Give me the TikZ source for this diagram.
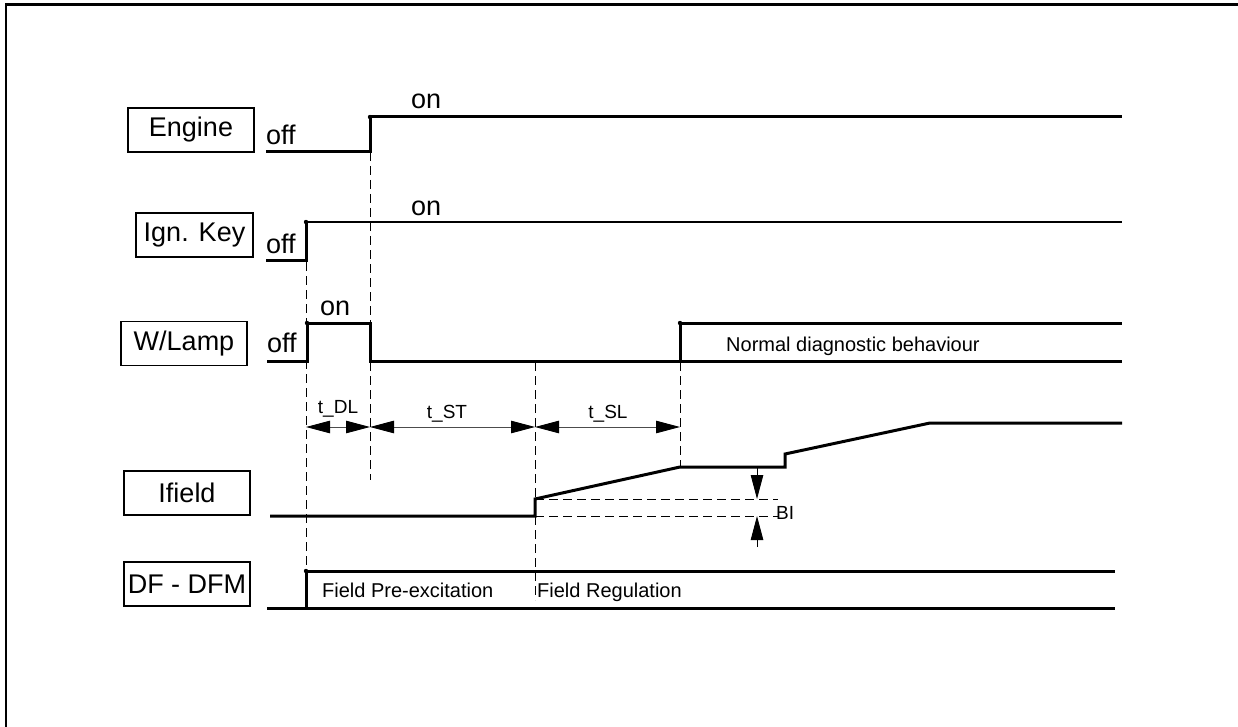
\documentclass[tikz,border=0pt]{standalone}
\usepackage{fontspec}
\setmainfont{Liberation Sans}
\usetikzlibrary{arrows.meta}

\begin{document}
\begin{tikzpicture}[x=1pt,y=-1pt,>={Triangle[length=24pt,width=12.5pt,color=black]},line join=miter,
  sig/.style={line width=3pt},
  guide/.style={line width=0.9pt,dash pattern=on 9pt off 5pt},
  dim/.style={<->,line width=0.9pt,black!70},
  box/.style={draw,line width=1.8pt,minimum width=126pt,minimum height=44pt,inner sep=0pt,font=\fontsize{27}{32}\selectfont},
  big/.style={inner sep=0pt,font=\fontsize{27}{32}\selectfont},
  small/.style={inner sep=0pt,font=\fontsize{20}{24}\selectfont}]
\useasboundingbox (0,0) rectangle (1238,727);
\draw[line width=2.5pt] (6,727) -- (6,4.5) -- (1238,4.5);
\node[box] (engine) at (191,130) {Engine};
\node[box,minimum width=117pt] (ignkey) at (194.5,235) {Ign. Key};
\node[box] (wlamp) at (184,343.5) {W/Lamp};
\node[box] (ifield) at (187,493) {Ifield};
\node[box] (dfdfm) at (187,584) {DF - DFM};
% engine
\coordinate (e0) at (266,152);
\coordinate (e1) at (370,152);
\coordinate (e2) at (370,117);
\coordinate (e3) at (1122,117);
\draw[sig] (e0) -- (e1) -- (e2) -- (e3);
\fill (e2) circle (2.2pt);
\node[big,anchor=base west] (eoff) at (266,145) {off};
\node[big,anchor=base west] (eon) at (411,109) {on};
% ignition key
\coordinate (k0) at (266,260);
\coordinate (k1) at (306,260);
\coordinate (k2) at (306,222);
\coordinate (k3) at (1122,222);
\draw[sig] (k0) -- (k1) -- (k2);
\draw[line width=2.5pt] (k2) -- (k3);
\fill (k2) circle (2.2pt);
\node[big,anchor=base west] (koff) at (266,253) {off};
\node[big,anchor=base west] (kon) at (411,215) {on};
% warning lamp
\coordinate (w0) at (267,361);
\coordinate (w1) at (307,361);
\coordinate (w2) at (307,323);
\coordinate (w3) at (370,323);
\coordinate (w4) at (370,361);
\coordinate (w5) at (1122,361);
\coordinate (w6) at (680,361);
\coordinate (w7) at (680,323);
\coordinate (w8) at (1122,323);
\draw[sig] (w0) -- (w1) -- (w2) -- (w3) -- (w4) -- (w5);
\draw[sig] (w6) -- (w7) -- (w8);
\fill (w2) circle (2.2pt);
\fill (w7) circle (2.2pt);
\node[big,anchor=base west] (woff) at (267,352) {off};
\node[big,anchor=base west] (won) at (320,315) {on};
\node[small,anchor=base west] (normal) at (726,351) {Normal diagnostic behaviour};
% guides
\draw[guide] (306,262) -- (306,571);
\draw[guide] (370,152) -- (370,480);
\draw[guide] (535,362) -- (535,600);
\draw[guide] (680,362) -- (680,467);
% timing
\coordinate (d0) at (306,427);
\coordinate (d1) at (370,427);
\coordinate (d2) at (535,427);
\coordinate (d3) at (680,427);
\draw[dim] (d0) -- (d1);
\draw[dim] (d1) -- (d2);
\draw[dim] (d2) -- (d3);
\node[small,anchor=base,font=\fontsize{19}{22}\selectfont] (tdl) at (338,413) {t\_DL};
\node[small,anchor=base,font=\fontsize{19}{22}\selectfont] (tst) at (447,418) {t\_ST};
\node[small,anchor=base,font=\fontsize{19}{22}\selectfont] (tsl) at (608,418) {t\_SL};
% field current
\coordinate (f0) at (270,516);
\coordinate (f1) at (535,516);
\coordinate (f2) at (535,499);
\coordinate (f3) at (680,467);
\coordinate (f4) at (785,467);
\coordinate (f5) at (785,454);
\coordinate (f6) at (930,423);
\coordinate (f7) at (1122,423);
\draw[sig] (f0) -- (f1) -- (f2) -- (f3) -- (f4) -- (f5) -- (f6) -- (f7);
\draw[guide] (f2) -- (778,499);
\draw[guide] (f1) -- (778,516);
\coordinate (b0) at (757,466);
\coordinate (b1) at (757,499);
\coordinate (b2) at (757,547);
\coordinate (b3) at (757,516);
\draw[->,line width=0.9pt] (b0) -- (b1);
\draw[->,line width=0.9pt] (b2) -- (b3);
\node[small,anchor=base west,font=\fontsize{19}{22}\selectfont] (bi) at (776,519) {BI};
% field output
\coordinate (p0) at (267,608);
\coordinate (p1) at (306,608);
\coordinate (p2) at (306,571);
\coordinate (p3) at (1115,571);
\coordinate (p4) at (1115,608);
\draw[sig] (p0) -- (p4);
\draw[sig] (p1) -- (p2) -- (p3);
\fill (p2) circle (2.2pt);
\node[small,anchor=base west] (pre) at (322,597) {Field Pre-excitation};
\node[small,anchor=base west] (reg) at (537,597) {Field Regulation};
\end{tikzpicture}
\end{document}
